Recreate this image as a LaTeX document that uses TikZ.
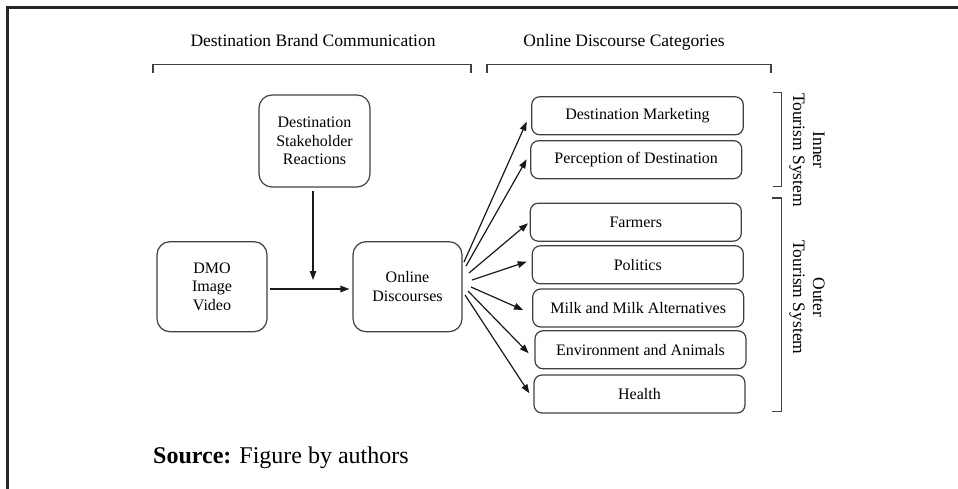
\documentclass[tikz,border=0pt]{standalone}
\usepackage{fontspec}
\setmainfont{Liberation Serif}
\usetikzlibrary{arrows.meta,calc}
\begin{document}
\begin{tikzpicture}[x=1pt,y=-1pt,
  boxtext/.style={font=\fontsize{16}{18.5}\selectfont},
  bigbox/.style={draw=black!75, line width=1.2pt, rounded corners=13pt, align=center, inner sep=0pt, boxtext},
  catbox/.style={draw=black!75, line width=1.2pt, rounded corners=8pt, minimum width=211pt, minimum height=38pt, inner sep=0pt, boxtext},
  arr/.style={-{Triangle[length=9pt,width=6.5pt]}, line width=1.2pt, black!90},
  bracket/.style={line width=1.1pt, black!75},
  titletext/.style={font=\fontsize{17.5}{20}\selectfont},
  sidelabel/.style={rotate=-90, align=center, font=\fontsize{17.5}{20}\selectfont, inner sep=0pt}
]
\useasboundingbox (0,0) rectangle (958,489);
% frame
\draw[line width=3pt, black!85] (7.5,492) -- (7.5,7.5) -- (960,7.5);

% titles
\node[titletext, anchor=base, inner sep=0pt] (t1) at (313,47) {Destination Brand Communication};
\node[titletext, anchor=base, inner sep=0pt] (t2) at (624,47) {Online Discourse Categories};
\draw[bracket] (153,73) -- (153,64.5) -- (471,64.5) -- (471,73);
\draw[bracket] (487,73) -- (487,64.5) -- (771,64.5) -- (771,73);

% left boxes
\node[bigbox, minimum width=111pt, minimum height=92pt] (stake) at (314.5,141) {Destination\\Stakeholder\\Reactions};
\node[bigbox, minimum width=110pt, minimum height=90pt] (dmo) at (212,286.7) {DMO\\Image\\Video};
\node[bigbox, minimum width=109pt, minimum height=90pt] (online) at (407.5,286.7) {Online\\Discourses};

\coordinate (vtip) at (313,280);
\draw[arr, shorten <=3pt] ([xshift=-1.5pt]stake.south) -- ([xshift=-1.5pt]stake.south |- vtip);
\draw[arr, shorten <=2pt, shorten >=3pt] ([yshift=-2.3pt]dmo.east) -- ([yshift=-2.3pt]online.west);

% category boxes
\node[catbox, minimum width=211.6pt] (dm) at (637.5,115.8) {Destination Marketing};
\node[catbox] (per) at (636.2,159.7) {Perception of Destination};
\node[catbox] (far) at (635.8,222.2) {Farmers};
\node[catbox] (pol) at (637.8,264.8) {Politics};
\node[catbox] (milk) at (638.2,308) {Milk and Milk Alternatives};
\node[catbox] (env) at (640.5,349.8) {Environment and Animals};
\node[catbox] (hea) at (639.5,394) {Health};

% fan arrows
\coordinate (s1) at (464,262);
\coordinate (s2) at (466,266);
\coordinate (s3) at (469,273);
\coordinate (s4) at (472,280);
\coordinate (s5) at (471,287);
\coordinate (s6) at (468,291);
\coordinate (s7) at (465,295);
\draw[arr] (s1) -- ($(dm.west)+(-4.4,5.9)$);
\draw[arr] (s2) -- ($(per.west)+(-3.4,-0.4)$);
\draw[arr] (s3) -- ($(far.west)+(-1.7,1.1)$);
\draw[arr] (s4) -- ($(pol.west)+(-5,-3.1)$);
\draw[arr] (s5) -- ($(milk.west)+(-9,2)$);
\draw[arr] (s6) -- ($(env.west)+(-5.7,3.5)$);
\draw[arr] (s7) -- ($(hea.west)+(-4,-0.7)$);

% side brackets
\draw[bracket] (773,92.7) -- (781.7,92.7) -- (781.7,186.7) -- (773,186.7);
\draw[bracket] (772,198) -- (781.7,198) -- (781.7,411.7) -- (772,411.7);
\node[sidelabel] (inner) at (807,150) {Inner\\Tourism System};
\node[sidelabel] (outer) at (807,297.5) {Outer\\Tourism System};

% source
\node[anchor=base west, inner sep=0pt, font=\fontsize{24}{28}\selectfont] (src) at (153,463) {\textbf{Source:} Figure by authors};
\end{tikzpicture}
\end{document}
